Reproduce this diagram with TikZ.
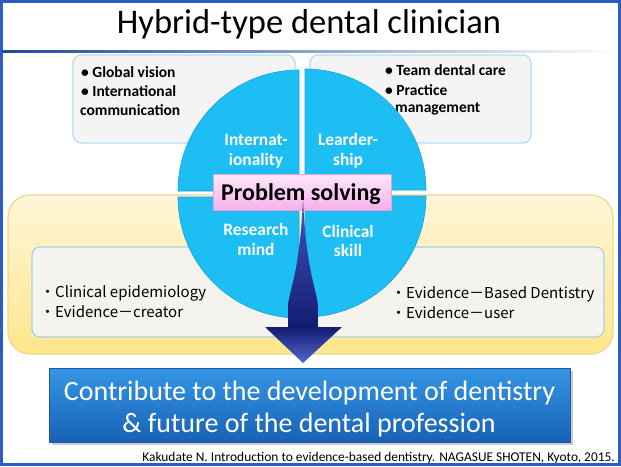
\documentclass[tikz,border=0pt]{standalone}
\usepackage{fontspec}
\setmainfont{Carlito}
\newfontfamily\jp{Noto Sans CJK JP}
\definecolor{frame}{HTML}{2B5CC6}
\definecolor{titleline}{HTML}{1E4B9A}
\definecolor{quad}{HTML}{1CBEF4}
\definecolor{quadedge}{HTML}{1AA2DC}
\definecolor{boxfill}{HTML}{F4F4F4}
\definecolor{boxedge}{HTML}{B5DDF2}
\definecolor{yelltop}{HTML}{FFF6D8}
\definecolor{yellbot}{HTML}{FFE68C}
\definecolor{yelledge}{HTML}{EED78E}
\definecolor{innerfill}{HTML}{F5F3EE}
\definecolor{inneredge}{HTML}{A5D3E6}
\definecolor{pinktop}{HTML}{FFE8FB}
\definecolor{pinkbot}{HTML}{F5B0EA}
\definecolor{pinkedge}{HTML}{E6A0DA}
\definecolor{arrtop}{HTML}{4656BE}
\definecolor{arrdark}{HTML}{111C72}
\definecolor{arrtip}{HTML}{5566D2}
\definecolor{bluetop}{HTML}{3596E6}
\definecolor{bluebot}{HTML}{1862B4}
\definecolor{blueedge}{HTML}{1A5AA6}
\begin{document}
\begin{tikzpicture}[x=1pt,y=1pt,
  topbox/.style={draw=boxedge, line width=1.2pt, fill=boxfill, rounded corners=8pt, inner sep=0pt},
  yellbox/.style={draw=yelledge, line width=1.2pt, top color=yelltop, bottom color=yellbot, rounded corners=22pt, inner sep=0pt},
  innerbox/.style={draw=inneredge, line width=1.2pt, fill=innerfill, rounded corners=8pt, inner sep=0pt},
  quadrant/.style={fill=quad, draw=quadedge, line width=0.6pt},
  pinkbox/.style={draw=pinkedge, line width=0.8pt, top color=pinktop, bottom color=pinkbot, inner sep=0pt},
  bluebox/.style={draw=blueedge, line width=0.8pt, top color=bluetop, bottom color=bluebot, inner sep=0pt},
  boxtxt/.style={anchor=base west, inner sep=0pt, font=\bfseries\fontsize{15.5}{18}\selectfont},
  quadtxt/.style={anchor=base, inner sep=0pt, text=white, font=\bfseries\fontsize{17.4}{20}\selectfont},
  evtxt/.style={anchor=base west, inner sep=0pt, font=\jp\fontsize{15}{18}\selectfont},
  goaltxt/.style={anchor=base, inner sep=0pt, text=white, font=\fontsize{28}{32}\selectfont}
]
\useasboundingbox (0,0) rectangle (621,-466);
\fill[white] (0,0) rectangle (621,-466);

% title
\node[anchor=base, inner sep=0pt, font=\fontsize{34.5}{40}\selectfont] (title) at (309,-33) {Hybrid-type dental clinician};
\shade[left color=titleline, right color=white] (3,-50) rectangle (621,-52.5);

% background boxes
\node[yellbox, minimum width=605pt, minimum height=159pt] (yell) at (310.5,-274.5) {};
\node[innerbox, minimum width=572pt, minimum height=90pt] (inner) at (318,-292) {};
\node[topbox, minimum width=222pt, minimum height=88pt] (tlbox) at (184,-99) {};
\node[topbox, minimum width=221pt, minimum height=88pt] (trbox) at (420.5,-99) {};

% top box texts
\node[boxtxt] (tl1) at (81,-77) {• Global vision};
\node[boxtxt] (tl2) at (81,-96) {• International};
\node[boxtxt] (tl3) at (80,-115) {communication};
\node[boxtxt] (tr1) at (385,-75) {• Team dental care};
\node[boxtxt] (tr2) at (385,-95) {• Practice};
\node[boxtxt] (tr3) at (395,-112) {management};

% inner box texts
\node[evtxt] (il1) at (40,-297) {・Clinical epidemiology};
\node[evtxt] (il2) at (40,-317) {・Evidence－creator};
\node[evtxt] (ir1) at (391,-298) {・Evidence－Based Dentistry};
\node[evtxt] (ir2) at (391,-318) {・Evidence－user};

% circle quadrants
\filldraw[quadrant] (299,-191) -- ++(-121,0) arc[start angle=180, end angle=90, radius=121] -- cycle;
\filldraw[quadrant] (305,-190) -- ++(0,121) arc[start angle=90, end angle=0, radius=121] -- cycle;
\filldraw[quadrant] (299,-197) -- ++(-121,0) arc[start angle=180, end angle=270, radius=121] -- cycle;
\filldraw[quadrant] (305,-196) -- ++(121,0) arc[start angle=0, end angle=-90, radius=121] -- cycle;

\node[quadtxt] (q1a) at (256,-145) {Internat-};
\node[quadtxt] (q1b) at (256,-165) {ionality};
\node[quadtxt] (q2a) at (348,-145) {Learder-};
\node[quadtxt] (q2b) at (348,-165) {ship};
\node[quadtxt] (q3a) at (256,-235) {Research};
\node[quadtxt] (q3b) at (256,-255) {mind};
\node[quadtxt] (q4a) at (348,-237) {Clinical};
\node[quadtxt] (q4b) at (348,-256) {skill};

% problem solving
\node[pinkbox, minimum width=178pt, minimum height=36pt] (prob) at (302,-192) {};
\node[anchor=base, inner sep=0pt, font=\bfseries\fontsize{24}{28}\selectfont] (probtxt) at (301,-200) {Problem solving};

% arrow
\shade[top color=arrtop, bottom color=arrdark]
  (303,-198) .. controls (300,-270) and (290,-288) .. (288,-305) -- (288,-327)
  -- (318,-327) -- (318,-305) .. controls (316,-288) and (306,-270) .. (303,-198) -- cycle;
\shade[top color=arrdark, bottom color=arrtip]
  (265,-327) -- (342,-327) -- (303,-363) -- cycle;

% goal box
\fill[black!20] (52,-371) rectangle (572.5,-445);
\node[bluebox, minimum width=520.5pt, minimum height=74pt] (goal) at (310,-405) {};
\node[goaltxt] (g1) at (309.5,-400) {Contribute to the development of dentistry};
\node[goaltxt] (g2) at (309,-432) {\& future of the dental profession};

% citation
\node[anchor=base east, inner sep=0pt, font=\fontsize{13.4}{16}\selectfont] (cite) at (615,-461) {Kakudate N. Introduction to evidence-based dentistry. NAGASUE SHOTEN, Kyoto, 2015.};

% frame
\draw[frame, line width=3pt] (1.5,-1.5) rectangle (619.5,-464.5);
\end{tikzpicture}
\end{document}
